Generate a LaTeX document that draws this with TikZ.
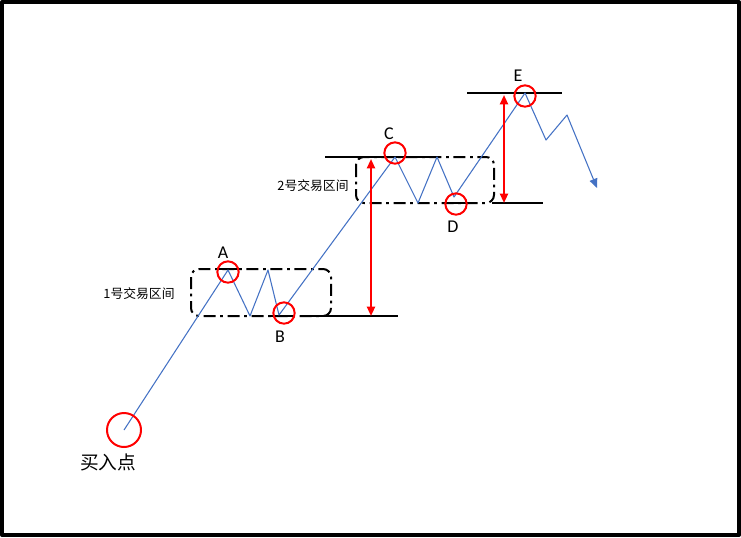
\documentclass[tikz,border=0pt]{standalone}
\usepackage{fontspec}
\setmainfont{Carlito}
\newfontfamily\cjk{Noto Sans CJK SC}
\usetikzlibrary{arrows.meta}
\definecolor{pathblue}{HTML}{4472C4}

\begin{document}
\begin{tikzpicture}[x=0.75pt, y=-0.75pt, line join=round,
  price/.style={pathblue, line width=0.8pt},
  level/.style={black, line width=1.5pt},
  zone/.style={black, line width=1.5pt, rounded corners=6pt,
    dash pattern=on 9pt off 3.5pt on 2pt off 3.5pt},
  ring/.style={draw=red, line width=1.5pt, circle, inner sep=0pt, minimum size=16pt},
  span/.style={red, line width=1.5pt, {Triangle[length=7pt,width=6pt]}-{Triangle[length=7pt,width=6pt]}},
  lbl/.style={font=\fontsize{13.5}{16}\selectfont, inner sep=0pt},
  zlbl/.style={inner sep=0pt, font=\cjk\fontsize{9.6}{11}\selectfont}]
\useasboundingbox (0,0) rectangle (741,537);
\draw[line width=3pt] (2,2) rectangle (739,535);
% price path
\coordinate (P0) at (124,430);
\coordinate (A) at (228,270);
\coordinate (P1) at (250,316);
\coordinate (P2) at (268,270);
\coordinate (B) at (279,315);
\coordinate (C) at (395,157);
\coordinate (P3) at (418,203);
\coordinate (P4) at (437,157);
\coordinate (D) at (454,197);
\coordinate (E) at (525,93);
\coordinate (P5) at (546,140);
\coordinate (P6) at (567,115);
\coordinate (P7) at (597,188);
% zones
\draw[zone] (191,269) rectangle (331,316);
\draw[zone] (356,157) rectangle (494,203);
\draw[level] (218,269) -- (238,269);
\draw[level] (270,316) -- (294,316);
\draw[level] (302,316) -- (398,316);
\draw[level] (325,157) -- (437,157);
\draw[level] (445,203) -- (467,203);
\draw[level] (492,203) -- (543,203);
\draw[level] (467,93) -- (562,93);
\draw[price, -{Triangle[length=7pt,width=6pt]}] (P0) -- (A) -- (P1) -- (P2) -- (B) -- (C) -- (P3) -- (P4) -- (D) -- (E) -- (P5) -- (P6) -- (P7);
% gaps
\coordinate (g1t) at (371,159);
\coordinate (g1b) at (371,316);
\coordinate (g2t) at (504,95);
\coordinate (g2b) at (504,203);
\draw[span] (g1t) -- (g1b);
\draw[span] (g2t) -- (g2b);
% marks
\node[ring, minimum size=25.5pt] (rbuy) at (124,430) {};
\node[ring] (rA) at (228,272) {};
\node[ring] (rB) at (284,313) {};
\node[ring] (rC) at (395,153) {};
\node[ring] (rD) at (456,204) {};
\node[ring] (rE) at (525,96) {};
\node[lbl] (lA) at (223,253) {A};
\node[lbl] (lB) at (280,337) {B};
\node[lbl] (lC) at (389,134) {C};
\node[lbl] (lD) at (453,227) {D};
\node[lbl] (lE) at (518,76) {E};
\node[zlbl] (z1) at (139,294) {1号交易区间};
\node[zlbl] (z2) at (313,186) {2号交易区间};
\node[inner sep=0pt, font=\cjk\fontsize{14}{16}\selectfont] (lbuy) at (108,462) {买入点};
\end{tikzpicture}
\end{document}
